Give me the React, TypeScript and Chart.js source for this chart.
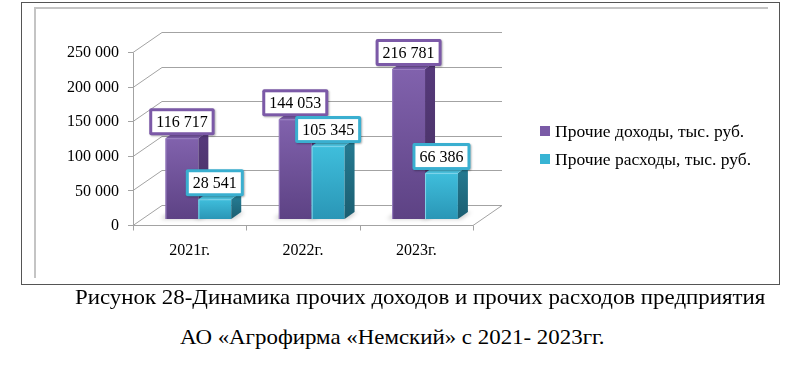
import React, { useEffect, useRef } from "react";
import { Chart, registerables } from "chart.js";

Chart.register(...registerables);

// ---------- data ----------
const categories = ["2021г.", "2022г.", "2023г."];
const incomeLabel = "Прочие доходы, тыс. руб.";
const expenseLabel = "Прочие расходы, тыс. руб.";
const incomeValues = [116717, 144053, 216781];
const expenseValues = [28541, 105345, 66386];
const yTicks = [0, 50000, 100000, 150000, 200000, 250000];
const captionLine1 = "Рисунок 28-Динамика прочих доходов и прочих расходов предприятия";
const captionLine2 = "АО «Агрофирма «Немский» с 2021- 2023гг.";

// ---------- style ----------
const SERIF = "'Liberation Serif', 'Times New Roman', serif";
const GRID = "#a3a3a3";
const WALL_X = 29;
const WALL_Y = -20;
const OFF_X = 8.7;
const OFF_Y = -6;
const SIDE_X = 10;
const SIDE_Y = -7;

const PURPLE = { top: "#8162ad", bottom: "#5d4284", sideTop: "#55397a", sideBottom: "#45305f", cap: "#7a5ba6", edge: "#9a80c2", border: "#7b59a7", legend: "#7a5aa6" };
const CYAN = { top: "#3fbedc", bottom: "#2a96b6", sideTop: "#24788f", sideBottom: "#1b5e71", cap: "#4cc2de", edge: "#7fd4ea", border: "#3aafd0", legend: "#38b4d4" };

const fmt = (v: number) => String(v).replace(/\B(?=(\d{3})+(?!\d))/g, " ");

function frontGradient(pal: typeof PURPLE) {
  return (c: any) => {
    const chart = c.chart;
    const ys = chart.scales && chart.scales.y;
    if (!ys || c.dataIndex === undefined) return pal.top;
    const v = c.dataset.data[c.dataIndex];
    const top = ys.getPixelForValue(v);
    const base = ys.getPixelForValue(0);
    if (!isFinite(top) || !isFinite(base) || top === base) return pal.top;
    const g = chart.ctx.createLinearGradient(0, top, 0, base);
    g.addColorStop(0, pal.top);
    g.addColorStop(1, pal.bottom);
    return g;
  };
}

const palettes = [PURPLE, CYAN];

let ownDraw = false;

const threeD = {
  id: "threeD",
  beforeDatasetsDraw(chart: any) {
    const { ctx, chartArea: a, scales } = chart;
    const x = scales.x;
    const y = scales.y;
    ctx.save();
    ctx.strokeStyle = GRID;
    ctx.lineWidth = 1;
    yTicks.forEach((v) => {
      const py = Math.round(y.getPixelForValue(v)) + 0.5;
      ctx.beginPath();
      ctx.moveTo(a.left, py);
      ctx.lineTo(a.left + WALL_X, py + WALL_Y);
      ctx.lineTo(a.right + WALL_X, py + WALL_Y);
      ctx.stroke();
      ctx.beginPath();
      ctx.moveTo(a.left - 5, py);
      ctx.lineTo(a.left, py);
      ctx.stroke();
    });
    const p0 = Math.round(y.getPixelForValue(0)) + 0.5;
    const pTop = Math.round(y.getPixelForValue(yTicks[yTicks.length - 1])) + 0.5;
    const left = Math.round(a.left) + 0.5;
    ctx.beginPath();
    ctx.moveTo(left, pTop);
    ctx.lineTo(left, p0);
    ctx.lineTo(a.right, p0);
    ctx.lineTo(a.right + WALL_X, p0 + WALL_Y);
    ctx.stroke();
    const n = categories.length;
    const step = (a.right - a.left) / n;
    for (let i = 0; i <= n; i++) {
      const px = Math.round(a.left + i * step) + 0.5;
      ctx.beginPath();
      ctx.moveTo(px, p0);
      ctx.lineTo(px, p0 + 5);
      ctx.stroke();
    }
    ctx.fillStyle = "#000";
    ctx.font = `16px ${SERIF}`;
    ctx.textAlign = "right";
    ctx.textBaseline = "middle";
    yTicks.forEach((v) => {
      ctx.fillText(fmt(v), a.left - 14, y.getPixelForValue(v) + 1);
    });
    ctx.textAlign = "center";
    categories.forEach((c, i) => {
      ctx.fillText(c, x.getPixelForValue(i), p0 + 25);
    });
    ctx.fillStyle = "rgba(0,0,0,0.22)";
    ctx.filter = "blur(2px)";
    chart.getSortedVisibleDatasetMetas().forEach((meta: any) => {
      meta.data.forEach((el: any) => {
        const p = el.getProps(["x", "base", "width"], true);
        const l = p.x - p.width / 2 + OFF_X;
        const r = p.x + p.width / 2 + OFF_X;
        const b = p.base + OFF_Y;
        ctx.beginPath();
        ctx.moveTo(l - 5, b);
        ctx.lineTo(l - 5 + SIDE_X, b + SIDE_Y);
        ctx.lineTo(r + SIDE_X + 3, b + SIDE_Y);
        ctx.lineTo(r + 3, b);
        ctx.closePath();
        ctx.fill();
      });
    });
    ctx.filter = "none";
    ctx.restore();
  },
  beforeDatasetDraw() {
    // datasets are drawn in afterDatasetsDraw, left to right, so the 3D faces overlap correctly
    return ownDraw;
  },
  afterDatasetsDraw(chart: any) {
    const { ctx } = chart;
    chart.data.datasets.forEach((_: any, index: number) => {
      const meta = chart.getDatasetMeta(index);
      if (!meta.visible) return;
      const pal = palettes[index];
      ctx.save();
      ctx.translate(OFF_X, OFF_Y);
      ownDraw = true;
      meta.controller.draw();
      ownDraw = false;
      meta.data.forEach((el: any) => {
        const p = el.getProps(["x", "y", "base", "width"], true);
        const l = p.x - p.width / 2;
        const r = p.x + p.width / 2;
        const sg = ctx.createLinearGradient(0, p.y, 0, p.base);
        sg.addColorStop(0, pal.sideTop);
        sg.addColorStop(1, pal.sideBottom);
        ctx.fillStyle = sg;
        ctx.beginPath();
        ctx.moveTo(r, p.y);
        ctx.lineTo(r + SIDE_X, p.y + SIDE_Y);
        ctx.lineTo(r + SIDE_X, p.base + SIDE_Y);
        ctx.lineTo(r, p.base);
        ctx.closePath();
        ctx.fill();
        ctx.fillStyle = pal.cap;
        ctx.beginPath();
        ctx.moveTo(l, p.y);
        ctx.lineTo(l + SIDE_X, p.y + SIDE_Y);
        ctx.lineTo(r + SIDE_X, p.y + SIDE_Y);
        ctx.lineTo(r, p.y);
        ctx.closePath();
        ctx.fill();
        ctx.strokeStyle = pal.edge;
        ctx.lineWidth = 1;
        ctx.beginPath();
        ctx.moveTo(l + 0.5, p.base);
        ctx.lineTo(l + 0.5, p.y + 0.5);
        ctx.lineTo(r, p.y + 0.5);
        ctx.stroke();
      });
      ctx.restore();
    });
  },
  afterDraw(chart: any) {
    const { ctx } = chart;
    ctx.save();
    ctx.font = `16px ${SERIF}`;
    ctx.textAlign = "center";
    ctx.textBaseline = "middle";
    chart.data.datasets.forEach((ds: any, index: number) => {
      const meta = chart.getDatasetMeta(index);
      const pal = palettes[index];
      meta.data.forEach((el: any, i: number) => {
        const p = el.getProps(["x", "y"], true);
        const txt = fmt(ds.data[i]);
        const w = ctx.measureText(txt).width + 14;
        const h = 27;
        const cx = p.x + OFF_X;
        const bottom = p.y + OFF_Y - 3;
        const bx = cx - w / 2;
        const by = bottom - h;
        ctx.save();
        ctx.shadowColor = "rgba(0,0,0,0.3)";
        ctx.shadowBlur = 2;
        ctx.shadowOffsetX = 1;
        ctx.shadowOffsetY = 1;
        ctx.fillStyle = pal.border;
        ctx.beginPath();
        ctx.roundRect(bx, by, w, h, 2);
        ctx.fill();
        ctx.restore();
        ctx.fillStyle = "#fff";
        ctx.fillRect(bx + 3, by + 3, w - 6, h - 6);
        ctx.fillStyle = "#000";
        ctx.fillText(txt, cx, by + h / 2 + 1);
      });
    });
    ctx.textAlign = "left";
    ctx.font = `17.5px ${SERIF}`;
    chart.data.datasets.forEach((ds: any, i: number) => {
      ctx.fillStyle = palettes[i].legend;
      ctx.fillRect(540, 126 + i * 28, 10, 10);
      ctx.fillStyle = "#000";
      ctx.fillText(ds.label, 555, 132 + i * 28);
    });
    ctx.restore();
  },
};

const captionStyle: React.CSSProperties = {
  position: "absolute",
  fontFamily: SERIF,
  fontSize: 21,
  lineHeight: "21px",
  whiteSpace: "nowrap",
  color: "#000",
  transform: "scaleX(1.09)",
  transformOrigin: "0 0",
};

export default function App() {
  const ref = useRef<HTMLCanvasElement>(null);
  useEffect(() => {
    if (!ref.current) return;
    const chart = new Chart(ref.current, {
      type: "bar",
      data: {
        labels: categories,
        datasets: [
          {
            label: incomeLabel,
            data: incomeValues,
            backgroundColor: frontGradient(PURPLE),
            borderWidth: 0,
            categoryPercentage: 0.58,
            barPercentage: 1,
          },
          {
            label: expenseLabel,
            data: expenseValues,
            backgroundColor: frontGradient(CYAN),
            borderWidth: 0,
            categoryPercentage: 0.58,
            barPercentage: 1,
          },
        ],
      },
      options: {
        responsive: false,
        animation: false,
        devicePixelRatio: 1,
        events: [],
        layout: { padding: { left: 133, right: 327, top: 52, bottom: 65 } },
        scales: {
          x: { display: false, offset: true },
          y: { display: false, min: 0, max: 250000 },
        },
        plugins: { legend: { display: false }, tooltip: { enabled: false } },
      },
      plugins: [threeD],
    });
    return () => chart.destroy();
  }, []);

  return (
    <div style={{ position: "fixed", left: 0, top: 0, width: 800, height: 370, background: "#fff", overflow: "hidden" }}>
      <div style={{ position: "absolute", left: 21, top: 2, width: 759, height: 283, boxSizing: "border-box", border: "1px solid #555" }} />
      <div style={{ position: "absolute", left: 35, top: 7, width: 733, height: 2, background: "#c4c4c4" }} />
      <div style={{ position: "absolute", left: 34, top: 7, width: 2, height: 271, background: "#c4c4c4" }} />
      <canvas ref={ref} width={800} height={290} style={{ position: "absolute", left: 0, top: 0, width: 800, height: 290 }} />
      <div style={{ ...captionStyle, left: 75, top: 287 }}>{captionLine1}</div>
      <div style={{ ...captionStyle, left: 180, top: 327 }}>{captionLine2}</div>
    </div>
  );
}
